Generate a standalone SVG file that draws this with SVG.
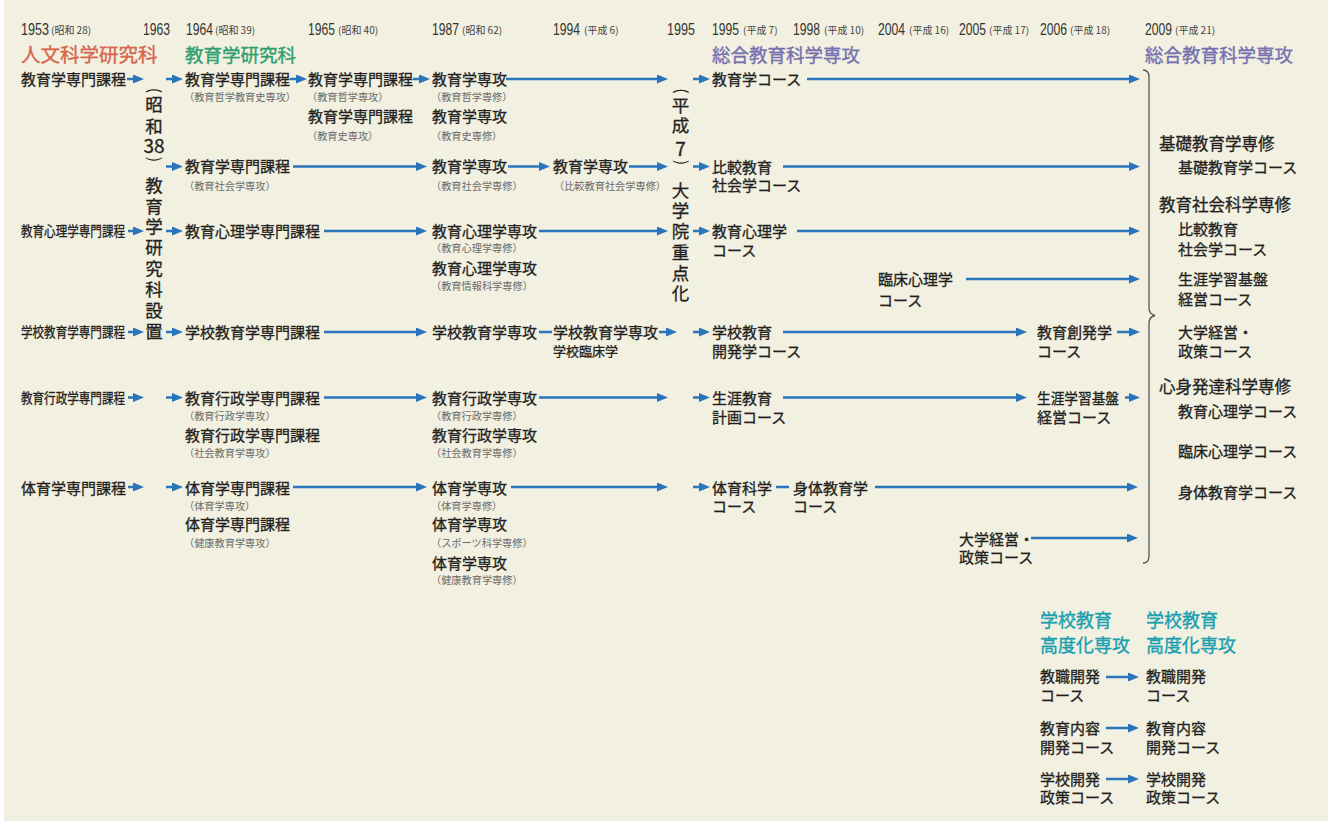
<svg xmlns="http://www.w3.org/2000/svg" width="1335" height="821" viewBox="0 0 1335 821">
<style>
text{font-family:"Noto Sans CJK JP","Noto Sans CJK SC",sans-serif;fill:#231f20}
.t,.ls,.rh,.v,.vd,.sm{stroke:#231f20;stroke-width:0.3px}
.t{font-size:15px}
.ls{font-size:14px}
.s{font-size:10.2px;fill:#6a6a6a}
.yr{font-family:"Liberation Sans",Arial,sans-serif;font-size:17px;fill:#333}
.ya{font-size:10px;fill:#444}
.h1{font-size:19.5px;fill:#d6654c;stroke:#d6654c;stroke-width:0.35px}
.h2{font-size:18.5px;fill:#2f9e71;stroke:#2f9e71;stroke-width:0.35px}
.h3{font-size:18.5px;fill:#7670b0;stroke:#7670b0;stroke-width:0.35px}
.h4{font-size:18px;fill:#1a9fb0;stroke:#1a9fb0;stroke-width:0.35px}
.rh{font-size:16.5px}
.v{font-size:17.5px;text-anchor:middle}
.vd{font-size:19px;text-anchor:middle}
.vp{font-size:16px;text-anchor:middle}
.sm{font-size:13px}
.c{stroke:#2a74bb;stroke-width:2.5;fill:none;marker-end:url(#ah)}
.p{stroke:#2a74bb;stroke-width:2.5;fill:none}
</style>
<defs>
<marker id="ah" markerUnits="userSpaceOnUse" markerWidth="12" markerHeight="10" refX="6" refY="4.5" orient="auto">
<path d="M0,0 L11,4.5 L0,9 z" fill="#2a74bb"/>
</marker>
</defs>
<rect x="4" y="0" width="1324" height="821" fill="#f2f0e0"/>

<g id="years">
<text class="yr" x="21" y="35" textLength="28" lengthAdjust="spacingAndGlyphs">1953</text><text class="ya" x="51" y="34">(昭和 28)</text>
<text class="yr" x="143" y="35" textLength="27" lengthAdjust="spacingAndGlyphs">1963</text>
<text class="yr" x="186" y="35" textLength="27" lengthAdjust="spacingAndGlyphs">1964</text><text class="ya" x="215" y="34">(昭和 39)</text>
<text class="yr" x="308" y="35" textLength="27" lengthAdjust="spacingAndGlyphs">1965</text><text class="ya" x="338" y="34">(昭和 40)</text>
<text class="yr" x="432" y="35" textLength="27" lengthAdjust="spacingAndGlyphs">1987</text><text class="ya" x="462" y="34">(昭和 62)</text>
<text class="yr" x="553" y="35" textLength="27" lengthAdjust="spacingAndGlyphs">1994</text><text class="ya" x="584" y="34">(平成 6)</text>
<text class="yr" x="667" y="35" textLength="28" lengthAdjust="spacingAndGlyphs">1995</text>
<text class="yr" x="712" y="35" textLength="27" lengthAdjust="spacingAndGlyphs">1995</text><text class="ya" x="743" y="34">(平成 7)</text>
<text class="yr" x="793" y="35" textLength="27" lengthAdjust="spacingAndGlyphs">1998</text><text class="ya" x="824" y="34">(平成 10)</text>
<text class="yr" x="878" y="35" textLength="27" lengthAdjust="spacingAndGlyphs">2004</text><text class="ya" x="909" y="34">(平成 16)</text>
<text class="yr" x="959" y="35" textLength="27" lengthAdjust="spacingAndGlyphs">2005</text><text class="ya" x="989" y="34">(平成 17)</text>
<text class="yr" x="1040" y="35" textLength="27" lengthAdjust="spacingAndGlyphs">2006</text><text class="ya" x="1070" y="34">(平成 18)</text>
<text class="yr" x="1145" y="35" textLength="27" lengthAdjust="spacingAndGlyphs">2009</text><text class="ya" x="1175" y="34">(平成 21)</text>
</g>

<g id="headings">
<text class="h1" x="21" y="62">人文科学研究科</text>
<text class="h2" x="185" y="62">教育学研究科</text>
<text class="h3" x="712" y="62">総合教育科学専攻</text>
<text class="h3" x="1145" y="62">総合教育科学専攻</text>
</g>

<g id="col1953">
<text class="t" x="21" y="84.7">教育学専門課程</text>
<text class="ls" x="21" y="236" textLength="104" lengthAdjust="spacingAndGlyphs">教育心理学専門課程</text>
<text class="ls" x="21" y="337" textLength="104" lengthAdjust="spacingAndGlyphs">学校教育学専門課程</text>
<text class="ls" x="21" y="403.3" textLength="104" lengthAdjust="spacingAndGlyphs">教育行政学専門課程</text>
<text class="t" x="21" y="493.5">体育学専門課程</text>
</g>

<g id="col1963">
<text class="vp" x="154" y="95.5" transform="rotate(90 154 90.5)">(</text>
<text class="v" x="154" y="111.2">昭</text>
<text class="v" x="154" y="133.2">和</text>
<text class="vd" x="154" y="152.5">38</text>
<text class="vp" x="154" y="164.5" transform="rotate(90 154 159.5)">)</text>
<text class="v" x="154" y="191.6">教</text>
<text class="v" x="154" y="212.5">育</text>
<text class="v" x="154" y="233.4">学</text>
<text class="v" x="154" y="254.2">研</text>
<text class="v" x="154" y="275.1">究</text>
<text class="v" x="154" y="295.9">科</text>
<text class="v" x="154" y="316.8">設</text>
<text class="v" x="154" y="337.7">置</text>
</g>

<g id="col1964">
<text class="t" x="185" y="84.7">教育学専門課程</text>
<text class="s" x="184" y="100.8">（教育哲学教育史専攻）</text>
<text class="t" x="185" y="171.5">教育学専門課程</text>
<text class="s" x="184" y="189.8">（教育社会学専攻）</text>
<text class="t" x="185" y="236.7">教育心理学専門課程</text>
<text class="t" x="185" y="337.5">学校教育学専門課程</text>
<text class="t" x="185" y="403.7">教育行政学専門課程</text>
<text class="s" x="184" y="419.8">（教育行政学専攻）</text>
<text class="t" x="185" y="440.7">教育行政学専門課程</text>
<text class="s" x="184" y="456.8">（社会教育学専攻）</text>
<text class="t" x="185" y="493.7">体育学専門課程</text>
<text class="s" x="184" y="509.8">（体育学専攻）</text>
<text class="t" x="185" y="530.2">体育学専門課程</text>
<text class="s" x="184" y="546.8">（健康教育学専攻）</text>
</g>

<g id="col1965">
<text class="t" x="308" y="84.7">教育学専門課程</text>
<text class="s" x="307" y="100.8">（教育哲学専攻）</text>
<text class="t" x="308" y="122">教育学専門課程</text>
<text class="s" x="307" y="139.8">（教育史専攻）</text>
</g>

<g id="col1987">
<text class="t" x="432" y="84.7">教育学専攻</text>
<text class="s" x="431" y="100.8">（教育哲学専修）</text>
<text class="t" x="432" y="122">教育学専攻</text>
<text class="s" x="431" y="139.8">（教育史専修）</text>
<text class="t" x="432" y="171.5">教育学専攻</text>
<text class="s" x="431" y="189.8">（教育社会学専修）</text>
<text class="t" x="432" y="236.7">教育心理学専攻</text>
<text class="s" x="431" y="251.8">（教育心理学専修）</text>
<text class="t" x="432" y="273.7">教育心理学専攻</text>
<text class="s" x="431" y="289.8">（教育情報科学専修）</text>
<text class="t" x="432" y="337.5">学校教育学専攻</text>
<text class="t" x="432" y="403.7">教育行政学専攻</text>
<text class="s" x="431" y="419.8">（教育行政学専修）</text>
<text class="t" x="432" y="440.7">教育行政学専攻</text>
<text class="s" x="431" y="456.8">（社会教育学専修）</text>
<text class="t" x="432" y="493.7">体育学専攻</text>
<text class="s" x="431" y="509.8">（体育学専修）</text>
<text class="t" x="432" y="530.2">体育学専攻</text>
<text class="s" x="431" y="546.8">（スポーツ科学専修）</text>
<text class="t" x="432" y="568.7">体育学専攻</text>
<text class="s" x="431" y="583.8">（健康教育学専修）</text>
</g>

<g id="col1994">
<text class="t" x="553" y="171.5">教育学専攻</text>
<text class="s" x="554" y="189.8">（比較教育社会学専修）</text>
<text class="t" x="553" y="337.5">学校教育学専攻</text>
<text class="sm" x="553" y="356.4">学校臨床学</text>
</g>

<g id="col1995a">
<text class="vp" x="680.5" y="96" transform="rotate(90 680.5 91)">(</text>
<text class="v" x="680.5" y="111.7">平</text>
<text class="v" x="680.5" y="131.5">成</text>
<text class="vd" x="680.5" y="155.5">7</text>
<text class="vp" x="680.5" y="167.5" transform="rotate(90 680.5 162.5)">)</text>
<text class="v" x="680.5" y="196.7">大</text>
<text class="v" x="680.5" y="217.4">学</text>
<text class="v" x="680.5" y="238.1">院</text>
<text class="v" x="680.5" y="258.7">重</text>
<text class="v" x="680.5" y="279.5">点</text>
<text class="v" x="680.5" y="300.2">化</text>
</g>

<g id="col1995b">
<text class="t" x="712" y="84.7">教育学コース</text>
<text class="t" x="712" y="172.7">比較教育</text>
<text class="t" x="712" y="190.7">社会学コース</text>
<text class="t" x="712" y="236.7">教育心理学</text>
<text class="t" x="712" y="255.7">コース</text>
<text class="t" x="712" y="337.5">学校教育</text>
<text class="t" x="712" y="356.7">開発学コース</text>
<text class="t" x="712" y="403.7">生涯教育</text>
<text class="t" x="712" y="423">計画コース</text>
<text class="t" x="712" y="493.7">体育科学</text>
<text class="t" x="712" y="511.5">コース</text>
</g>

<g id="col1998">
<text class="t" x="793" y="493.7">身体教育学</text>
<text class="t" x="793" y="511.5">コース</text>
</g>

<g id="col2004">
<text class="t" x="878" y="285.2">臨床心理学</text>
<text class="t" x="878" y="305.5">コース</text>
</g>

<g id="col2005">
<text class="t" x="959" y="544.7">大学経営・</text>
<text class="t" x="959" y="563.2">政策コース</text>
</g>

<g id="col2006">
<text class="t" x="1037" y="338.2">教育創発学</text>
<text class="t" x="1037" y="356.7">コース</text>
<text class="t" x="1037" y="403.7" textLength="82" lengthAdjust="spacingAndGlyphs">生涯学習基盤</text>
<text class="t" x="1037" y="423">経営コース</text>
</g>

<g id="col2009">
<path d="M1143,70 Q1149,70 1149,77 L1149,308 Q1149,314 1155,315.5 Q1149,317 1149,323 L1149,556 Q1149,563 1143,563" fill="none" stroke="#555" stroke-width="1.3"/>
<text class="rh" x="1159" y="149.6">基礎教育学専修</text>
<text class="t" x="1178" y="173.2">基礎教育学コース</text>
<text class="rh" x="1159" y="211.3">教育社会科学専修</text>
<text class="t" x="1178" y="234.7">比較教育</text>
<text class="t" x="1178" y="254.7">社会学コース</text>
<text class="t" x="1178" y="284.7">生涯学習基盤</text>
<text class="t" x="1178" y="304.7">経営コース</text>
<text class="t" x="1178" y="338.2">大学経営・</text>
<text class="t" x="1178" y="356.7">政策コース</text>
<text class="rh" x="1159" y="393.3">心身発達科学専修</text>
<text class="t" x="1178" y="416.7">教育心理学コース</text>
<text class="t" x="1178" y="456.7">臨床心理学コース</text>
<text class="t" x="1178" y="497.7">身体教育学コース</text>
</g>

<g id="kodoka">
<text class="h4" x="1040" y="626.8">学校教育</text>
<text class="h4" x="1040" y="651.8">高度化専攻</text>
<text class="h4" x="1146" y="626.8">学校教育</text>
<text class="h4" x="1146" y="651.8">高度化専攻</text>
<text class="t" x="1040" y="682.4">教職開発</text>
<text class="t" x="1040" y="700.7">コース</text>
<text class="t" x="1146" y="682.4">教職開発</text>
<text class="t" x="1146" y="700.7">コース</text>
<text class="t" x="1040" y="734.4">教育内容</text>
<text class="t" x="1040" y="752.7">開発コース</text>
<text class="t" x="1146" y="734.4">教育内容</text>
<text class="t" x="1146" y="752.7">開発コース</text>
<text class="t" x="1040" y="784.7">学校開発</text>
<text class="t" x="1040" y="803.2">政策コース</text>
<text class="t" x="1146" y="784.7">学校開発</text>
<text class="t" x="1146" y="803.2">政策コース</text>
</g>

<g id="connectors">
<line class="c" x1="127" y1="79" x2="139" y2="79"/>
<line class="c" x1="166" y1="79" x2="178" y2="79"/>
<line class="c" x1="290" y1="79" x2="302" y2="79"/>
<line class="c" x1="413" y1="79" x2="425" y2="79"/>
<line class="c" x1="506" y1="79" x2="663" y2="79"/>
<line class="c" x1="693" y1="79" x2="705" y2="79"/>
<line class="c" x1="807" y1="79" x2="1135" y2="79"/>

<line class="c" x1="166" y1="166.5" x2="178" y2="166.5"/>
<line class="c" x1="293" y1="166.5" x2="422" y2="166.5"/>
<line class="c" x1="508" y1="166.5" x2="545" y2="166.5"/>
<line class="c" x1="629" y1="166.5" x2="663" y2="166.5"/>
<line class="c" x1="693" y1="166.5" x2="705" y2="166.5"/>
<line class="c" x1="783" y1="166.5" x2="1135" y2="166.5"/>

<line class="c" x1="128" y1="231" x2="139" y2="231"/>
<line class="c" x1="166" y1="231" x2="178" y2="231"/>
<line class="c" x1="324" y1="231" x2="422" y2="231"/>
<line class="c" x1="539" y1="231" x2="663" y2="231"/>
<line class="c" x1="693" y1="231" x2="705" y2="231"/>
<line class="c" x1="797" y1="231" x2="1135" y2="231"/>
<line class="c" x1="966" y1="279" x2="1135" y2="279"/>

<line class="c" x1="128" y1="332" x2="139" y2="332"/>
<line class="c" x1="166" y1="332" x2="178" y2="332"/>
<line class="c" x1="324" y1="332" x2="422" y2="332"/>
<line class="p" x1="539" y1="332" x2="552" y2="332"/>
<line class="c" x1="659" y1="332" x2="672" y2="332"/>
<line class="c" x1="693" y1="332" x2="705" y2="332"/>
<line class="c" x1="783" y1="332" x2="1022" y2="332"/>
<line class="c" x1="1117" y1="332" x2="1135" y2="332"/>

<line class="c" x1="128" y1="397.5" x2="139" y2="397.5"/>
<line class="c" x1="166" y1="397.5" x2="178" y2="397.5"/>
<line class="c" x1="324" y1="397.5" x2="422" y2="397.5"/>
<line class="c" x1="539" y1="397.5" x2="663" y2="397.5"/>
<line class="c" x1="693" y1="397.5" x2="705" y2="397.5"/>
<line class="c" x1="783" y1="397.5" x2="1022" y2="397.5"/>
<line class="c" x1="1125" y1="397.5" x2="1135" y2="397.5"/>

<line class="c" x1="128" y1="487" x2="139" y2="487"/>
<line class="c" x1="166" y1="487" x2="178" y2="487"/>
<line class="c" x1="293" y1="487" x2="422" y2="487"/>
<line class="c" x1="511" y1="487" x2="663" y2="487"/>
<line class="c" x1="693" y1="487" x2="705" y2="487"/>
<line class="p" x1="776" y1="487" x2="789" y2="487"/>
<line class="c" x1="875" y1="487" x2="1133" y2="487"/>
<line class="c" x1="1031" y1="538" x2="1133" y2="538"/>

<line class="c" x1="1106" y1="677" x2="1134" y2="677"/>
<line class="c" x1="1106" y1="728" x2="1134" y2="728"/>
<line class="c" x1="1106" y1="779" x2="1134" y2="779"/>
</g>
</svg>
